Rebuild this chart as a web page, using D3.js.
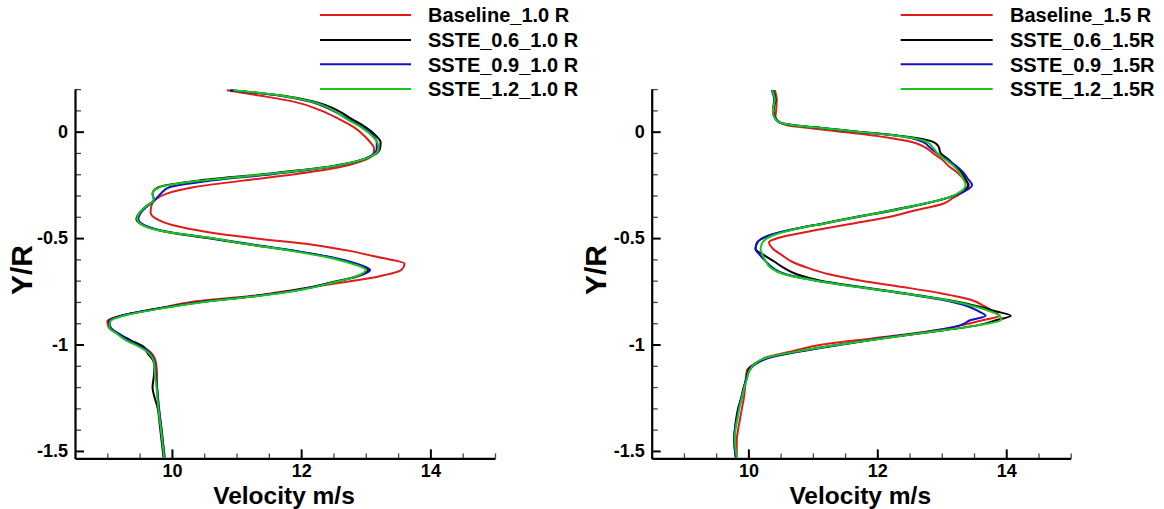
<!DOCTYPE html>
<html>
<head>
<meta charset="utf-8">
<script src="https://cdn.jsdelivr.net/npm/d3@7"></script>
<style>
  html, body { margin: 0; padding: 0; background: #fff; }
  svg { display: block; }
  text { font-family: "Liberation Sans", Arial, sans-serif; font-weight: bold; fill: #000; }
</style>
</head>
<body>
<svg id="chart" width="1164" height="509"></svg>
<script>
// ---------- data ----------
const xDomain = [8.5, 15];
const yDomain = [0.2, -1.535];
const xMajorTicks = [10, 12, 14];
const xMinorTicks = [8.5, 9, 9.5, 10.5, 11, 11.5, 12.5, 13, 13.5, 14.5, 15];
const yMajorTicks = [0, -0.5, -1, -1.5];
const yTickLabels = ["0", "-0.5", "-1", "-1.5"];
const yMinorTicks = [0.2, 0.1, -0.1, -0.2, -0.3, -0.4, -0.6, -0.7, -0.8, -0.9, -1.1, -1.2, -1.3, -1.4];
const xTitle = "Velocity m/s";
const yTitle = "Y/R";

const seriesColors = ["#e01b1b", "#000000", "#1010c8", "#18c818"];
const legendLeft = ["Baseline_1.0 R", "SSTE_0.6_1.0 R", "SSTE_0.9_1.0 R", "SSTE_1.2_1.0 R"];
const legendRight = ["Baseline_1.5 R", "SSTE_0.6_1.5R", "SSTE_0.9_1.5R", "SSTE_1.2_1.5R"];

// Left panel (1.0 R): Y/R positions and velocities
const yLeft = [0.195, 0.17, 0.14, 0.10, 0.06, 0.02, -0.02, -0.05, -0.08, -0.11, -0.14, -0.17, -0.20, -0.23, -0.26, -0.29, -0.32, -0.35, -0.38, -0.41, -0.44, -0.47, -0.50, -0.53, -0.56, -0.59, -0.62, -0.65, -0.68, -0.71, -0.74, -0.77, -0.80, -0.83, -0.86, -0.89, -0.92, -0.95, -0.98, -1.01, -1.04, -1.07, -1.10, -1.15, -1.20, -1.30, -1.40, -1.53];
const baseline10 = [10.85, 11.35, 11.9, 12.3, 12.58, 12.82, 12.98, 13.07, 13.13, 13.11, 12.92, 12.55, 11.9, 11.1, 10.35, 9.93, 9.74, 9.68, 9.67, 9.76, 10.02, 10.52, 11.25, 12.15, 12.75, 13.2, 13.6, 13.55, 13.2, 12.6, 11.95, 11.3, 10.3, 9.8, 9.28, 9.0, 9.02, 9.17, 9.33, 9.55, 9.68, 9.74, 9.76, 9.77, 9.77, 9.8, 9.84, 9.88];
const sste06_10 = [10.9, 11.7, 12.22, 12.56, 12.78, 13.0, 13.16, 13.23, 13.22, 13.12, 12.85, 12.3, 11.4, 10.4, 9.8, 9.7, 9.72, 9.6, 9.5, 9.45, 9.56, 9.9, 10.55, 11.2, 11.9, 12.45, 12.82, 13.04, 12.85, 12.45, 12.0, 11.35, 10.45, 9.8, 9.28, 9.03, 9.04, 9.18, 9.36, 9.56, 9.62, 9.7, 9.73, 9.72, 9.7, 9.78, 9.82, 9.87];
const sste09_10 = [10.92, 11.65, 12.15, 12.48, 12.72, 12.95, 13.12, 13.17, 13.17, 13.1, 12.85, 12.35, 11.55, 10.6, 9.97, 9.83, 9.74, 9.62, 9.52, 9.48, 9.58, 9.93, 10.6, 11.25, 11.92, 12.47, 12.86, 13.07, 12.88, 12.47, 12.02, 11.35, 10.45, 9.82, 9.28, 9.03, 9.05, 9.18, 9.33, 9.52, 9.66, 9.72, 9.74, 9.75, 9.77, 9.8, 9.84, 9.89];
const sste12_10 = [10.95, 11.68, 12.18, 12.5, 12.7, 12.93, 13.1, 13.18, 13.2, 13.12, 12.85, 12.33, 11.45, 10.45, 9.82, 9.7, 9.72, 9.6, 9.5, 9.46, 9.55, 9.9, 10.6, 11.2, 11.85, 12.4, 12.78, 13.0, 12.85, 12.48, 12.05, 11.4, 10.5, 9.85, 9.32, 9.05, 9.03, 9.15, 9.29, 9.49, 9.64, 9.71, 9.73, 9.74, 9.76, 9.79, 9.83, 9.88];

// Right panel (1.5 R)
const yRight = [0.195, 0.15, 0.10, 0.07, 0.045, 0.03, 0.015, 0.0, -0.015, -0.03, -0.05, -0.07, -0.10, -0.13, -0.16, -0.19, -0.22, -0.25, -0.28, -0.31, -0.34, -0.37, -0.40, -0.43, -0.46, -0.49, -0.52, -0.55, -0.58, -0.61, -0.64, -0.67, -0.70, -0.73, -0.76, -0.79, -0.82, -0.845, -0.865, -0.885, -0.91, -0.94, -0.97, -1.00, -1.03, -1.06, -1.09, -1.12, -1.16, -1.20, -1.25, -1.30, -1.35, -1.40, -1.45, -1.53];
const baseline15 = [10.41, 10.44, 10.43, 10.42, 10.48, 10.6, 11.0, 11.43, 11.85, 12.2, 12.55, 12.72, 12.86, 13.0, 13.1, 13.23, 13.33, 13.42, 13.35, 13.18, 13.01, 12.58, 12.2, 11.65, 11.1, 10.58, 10.32, 10.38, 10.52, 10.67, 10.92, 11.25, 11.75, 12.4, 13.0, 13.45, 13.66, 13.8, 13.89, 13.65, 13.3, 12.75, 11.95, 11.15, 10.7, 10.28, 10.1, 9.98, 9.96, 9.95, 9.93, 9.9, 9.87, 9.84, 9.82, 9.82];
const sste06_15 = [10.38, 10.42, 10.39, 10.41, 10.47, 10.7, 11.2, 11.68, 12.2, 12.6, 12.88, 12.95, 12.98, 13.1, 13.2, 13.3, 13.36, 13.41, 13.32, 13.1, 12.7, 12.2, 11.68, 11.18, 10.68, 10.3, 10.14, 10.11, 10.24, 10.4, 10.55, 10.75, 11.12, 11.75, 12.45, 13.08, 13.55, 13.85, 14.07, 13.85, 13.55, 12.85, 12.1, 11.42, 10.82, 10.32, 10.1, 10.0, 9.97, 9.93, 9.89, 9.84, 9.81, 9.79, 9.78, 9.81];
const sste09_15 = [10.36, 10.4, 10.38, 10.4, 10.48, 10.72, 11.22, 11.7, 12.2, 12.52, 12.72, 12.8, 12.92, 13.08, 13.22, 13.33, 13.4, 13.47, 13.35, 13.1, 12.72, 12.25, 11.72, 11.2, 10.68, 10.3, 10.14, 10.11, 10.18, 10.27, 10.38, 10.58, 11.05, 11.7, 12.4, 13.0, 13.4, 13.58, 13.68, 13.45, 13.28, 12.78, 12.05, 11.45, 10.85, 10.35, 10.12, 10.02, 9.97, 9.93, 9.89, 9.85, 9.82, 9.79, 9.78, 9.8];
const sste12_15 = [10.37, 10.41, 10.38, 10.4, 10.47, 10.7, 11.2, 11.68, 12.18, 12.55, 12.78, 12.85, 12.93, 13.05, 13.18, 13.27, 13.33, 13.37, 13.3, 13.1, 12.7, 12.22, 11.7, 11.2, 10.7, 10.36, 10.22, 10.19, 10.22, 10.27, 10.35, 10.55, 11.05, 11.7, 12.42, 13.05, 13.5, 13.76, 13.9, 13.92, 13.55, 12.85, 12.1, 11.42, 10.8, 10.3, 10.1, 10.02, 9.98, 9.94, 9.9, 9.86, 9.83, 9.8, 9.79, 9.82];

// ---------- drawing ----------
const svg = d3.select("#chart");

const panels = [
  { x0: 75, x1: 495, yPos: yLeft, series: [baseline10, sste06_10, sste09_10, sste12_10],
    legend: legendLeft, legX0: 320, legX1: 411, legTextX: 428, yTitleX: 31.5 },
  { x0: 651.7, x1: 1070.7, yPos: yRight, series: [baseline15, sste06_15, sste09_15, sste12_15],
    legend: legendRight, legX0: 900.7, legX1: 992.7, legTextX: 1010, yTitleX: 606 }
];
const yTop = 89.1, yBottom = 458.4;
const legendRows = [15, 40, 64.3, 89];

panels.forEach(p => {
  const x = d3.scaleLinear().domain(xDomain).range([p.x0, p.x1]);
  const y = d3.scaleLinear().domain(yDomain).range([yTop, yBottom]);
  const g = svg.append("g");

  // curves
  const line = d3.line()
    .x(d => x(d[1]))
    .y(d => y(d[0]))
    .curve(d3.curveMonotoneY);
  p.series.forEach((vals, i) => {
    const pts = p.yPos.map((yy, k) => [yy, vals[k]]);
    g.append("path")
      .datum(pts)
      .attr("d", line)
      .attr("fill", "none")
      .attr("stroke", seriesColors[i])
      .attr("stroke-width", 2)
      .attr("stroke-linejoin", "round");
  });

  // minor ticks
  g.append("g")
    .attr("transform", `translate(0,${yBottom})`)
    .call(d3.axisBottom(x).tickValues(xMinorTicks).tickSizeInner(-5).tickSizeOuter(0).tickFormat(""))
    .call(a => a.select(".domain").remove())
    .call(a => a.selectAll("line").attr("stroke", "#444").attr("stroke-width", 1.3));
  g.append("g")
    .attr("transform", `translate(${p.x0},0)`)
    .call(d3.axisLeft(y).tickValues(yMinorTicks).tickSizeInner(-6).tickSizeOuter(0).tickFormat(""))
    .call(a => a.select(".domain").remove())
    .call(a => a.selectAll("line").attr("stroke", "#444").attr("stroke-width", 1.3));

  // major axes
  const xAx = g.append("g")
    .attr("transform", `translate(0,${yBottom})`)
    .call(d3.axisBottom(x).tickValues(xMajorTicks).tickSizeInner(-9).tickSizeOuter(0).tickPadding(6).tickFormat(d3.format("d")));
  xAx.select(".domain").attr("stroke", "#000").attr("stroke-width", 2.2);
  xAx.selectAll(".tick line").attr("stroke", "#000").attr("stroke-width", 2);
  xAx.selectAll("text").attr("font-size", 18).attr("font-family", "Liberation Sans, Arial, sans-serif").attr("font-weight", "bold").attr("fill", "#000");

  const yAx = g.append("g")
    .attr("transform", `translate(${p.x0},0)`)
    .call(d3.axisLeft(y).tickValues(yMajorTicks).tickSizeInner(-9).tickSizeOuter(0).tickPadding(7)
      .tickFormat((d, i) => yTickLabels[i]));
  yAx.select(".domain").attr("stroke", "#000").attr("stroke-width", 2.2);
  yAx.selectAll(".tick line").attr("stroke", "#000").attr("stroke-width", 2);
  yAx.selectAll("text").attr("font-size", 18).attr("font-family", "Liberation Sans, Arial, sans-serif").attr("font-weight", "bold").attr("fill", "#000");

  // titles
  g.append("text")
    .attr("x", (p.x0 + p.x1) / 2 - 1)
    .attr("y", 503.5)
    .attr("text-anchor", "middle")
    .attr("font-size", 24.5)
    .text(xTitle);
  g.append("text")
    .attr("transform", `translate(${p.yTitleX},270) rotate(-90)`)
    .attr("text-anchor", "middle")
    .attr("font-size", 30)
    .text(yTitle);

  // legend
  p.legend.forEach((name, i) => {
    g.append("line")
      .attr("x1", p.legX0).attr("x2", p.legX1)
      .attr("y1", legendRows[i]).attr("y2", legendRows[i])
      .attr("stroke", seriesColors[i]).attr("stroke-width", 2);
    g.append("text")
      .attr("x", p.legTextX)
      .attr("y", legendRows[i] + 7.3)
      .attr("font-size", 20)
      .text(name);
  });
});
</script>
</body>
</html>
